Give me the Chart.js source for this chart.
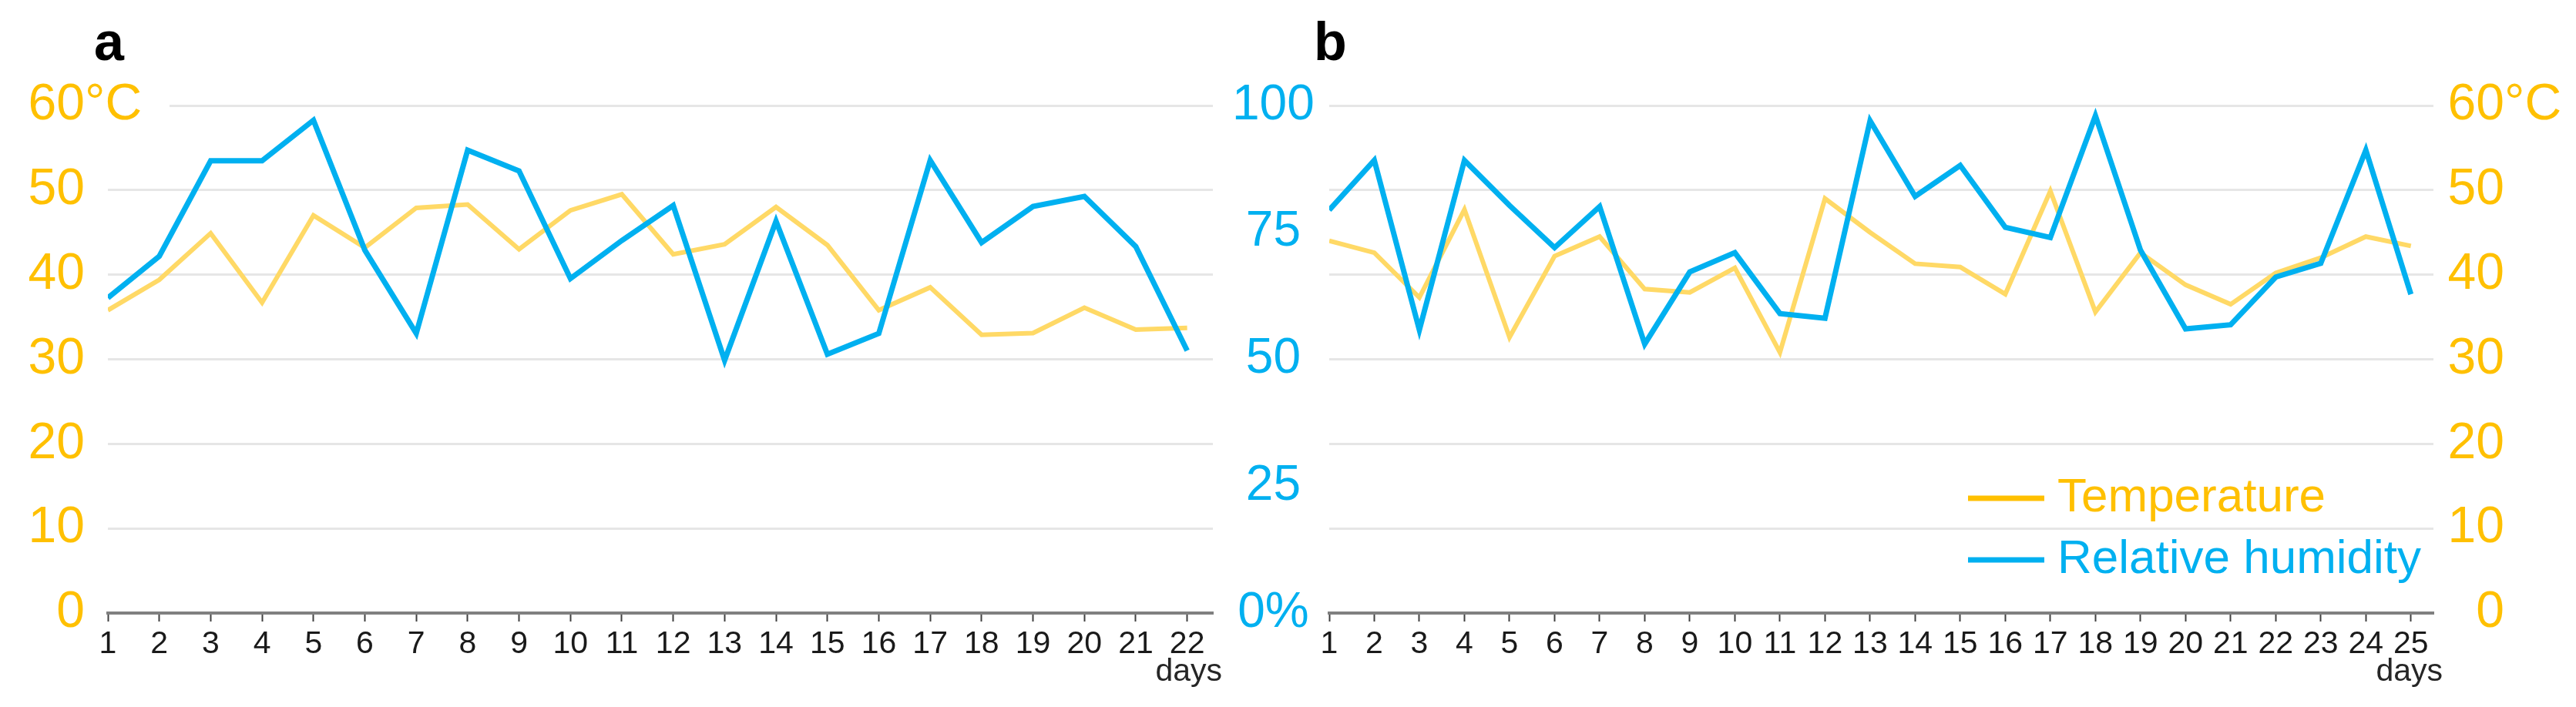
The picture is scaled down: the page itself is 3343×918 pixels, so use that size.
<!DOCTYPE html>
<html>
<head>
<meta charset="utf-8">
<script src="https://cdn.jsdelivr.net/npm/chart.js@4.4.0/dist/chart.umd.min.js"></script>
<style>
  body { margin: 0; background: #fff; width: 3343px; height: 918px; overflow: hidden; position: relative; }
  canvas { position: absolute; top: 0; }
  #chartA { left: 0; }
  #chartB { left: 1700px; }
</style>
</head>
<body>
<canvas id="chartA" width="1720" height="918"></canvas>
<canvas id="chartB" width="1643" height="918"></canvas>
<script>
// panel a
const daysA = [1, 2, 3, 4, 5, 6, 7, 8, 9, 10, 11, 12, 13, 14, 15, 16, 17, 18, 19, 20, 21, 22];
const tempA = [35.8, 39.4, 44.9, 36.7, 47.0, 43.2, 47.9, 48.3, 43.0, 47.6, 49.5, 42.4, 43.6, 48.0, 43.5, 35.8, 38.5, 32.9, 33.1, 36.1, 33.5, 33.7];
const humA  = [62.1, 70.3, 89.1, 89.1, 97.1, 71.5, 55.1, 91.2, 87.1, 65.9, 73.4, 80.3, 49.8, 77.2, 51.0, 55.1, 89.2, 73.0, 80.1, 82.1, 72.2, 51.7];

// panel b
const daysB = [1, 2, 3, 4, 5, 6, 7, 8, 9, 10, 11, 12, 13, 14, 15, 16, 17, 18, 19, 20, 21, 22, 23, 24, 25];
const tempB = [44.0, 42.6, 37.3, 47.7, 32.6, 42.2, 44.5, 38.3, 37.9, 40.8, 30.8, 49.0, 45.0, 41.3, 40.9, 37.7, 49.9, 35.6, 42.6, 38.8, 36.5, 40.2, 42.0, 44.5, 43.4];
const humB  = [79.4, 89.2, 55.8, 89.2, 80.3, 72.0, 80.1, 53.0, 67.2, 71.0, 59.0, 58.1, 97.0, 82.1, 88.2, 76.0, 74.0, 98.0, 71.5, 56.0, 56.8, 66.2, 68.9, 91.2, 62.8];

const tempTicks = [0, 10, 20, 30, 40, 50, 60];
const humTicks = [0, 25, 50, 75, 100];

const FONT = "'Liberation Sans', Arial, sans-serif";
const ORANGE = '#FFC000';
const YELLOW = '#FFD966';
const BLUE = '#00B0F0';

const setTicks = values => scale => { scale.ticks = values.map(v => ({ value: v })); };
const points = (days, vals) => days.map((d, i) => ({ x: d, y: vals[i] }));

function datasets(days, temp, hum) {
  return [
    { label: 'Temperature', data: points(days, temp), yAxisID: 'yT', borderColor: YELLOW, borderWidth: 6, pointRadius: 0, order: 1 },
    { label: 'Relative humidity', data: points(days, hum), yAxisID: 'yH', borderColor: BLUE, borderWidth: 7, pointRadius: 0, order: 0 },
  ];
}

function xAxis(days, max) {
  return {
    type: 'linear', min: 1, max: max,
    afterBuildTicks: setTicks(days),
    afterFit: s => { s.height = 122; },
    grid: { drawOnChartArea: false, drawTicks: true, tickLength: 11, tickColor: '#404040', tickWidth: 2 },
    border: { color: '#808080', width: 4 },
    ticks: { color: '#1a1a1a', font: { family: FONT, size: 41 }, padding: 5, maxRotation: 0, autoSkip: false },
  };
}

function tempAxis(position, width, padding, crossAlign) {
  return {
    type: 'linear', position: position, min: 0, max: 60,
    afterBuildTicks: setTicks(tempTicks),
    afterFit: s => { s.width = width; },
    grid: { color: '#e6e6e6', lineWidth: 3, drawTicks: false },
    border: { display: false },
    ticks: { color: ORANGE, font: { family: FONT, size: 66 }, padding: padding, crossAlign: crossAlign },
  };
}

// letters, "days", the °C unit and the legend of panel b
const overlay = {
  id: 'overlay',
  afterDraw(chart, args, o) {
    const { ctx, chartArea: ca } = chart;
    const yT = chart.scales.yT;
    const y60 = yT.getPixelForValue(60);
    ctx.save();
    ctx.fillStyle = '#000';
    ctx.font = 'bold 70px ' + FONT;
    ctx.textAlign = 'left';
    ctx.textBaseline = 'alphabetic';
    ctx.fillText(o.letter, o.letterX, 78);

    ctx.fillStyle = '#262626';
    ctx.font = '41px ' + FONT;
    ctx.textAlign = 'right';
    ctx.fillText('days', ca.right + 12, 884);

    ctx.font = '66px ' + FONT;
    let cx;
    if (yT.position === 'left') {
      cx = yT.right - yT.options.ticks.padding;
      ctx.fillStyle = '#fff';
      ctx.fillRect(ca.left, y60 - 3, 80, 6);
    } else {
      cx = yT.right;
    }
    ctx.fillStyle = ORANGE;
    ctx.textAlign = 'left';
    ctx.textBaseline = 'middle';
    ctx.fillText('°C', cx, y60);

    if (o.legend) {
      const colors = [ORANGE, BLUE];
      ctx.font = '62px ' + FONT;
      chart.data.datasets.forEach((ds, i) => {
        const y = 647 + i * 80;
        ctx.strokeStyle = colors[i];
        ctx.lineWidth = 7;
        ctx.beginPath();
        ctx.moveTo(854, y);
        ctx.lineTo(953, y);
        ctx.stroke();
        ctx.fillStyle = colors[i];
        ctx.fillText(ds.label, 970, y);
      });
    }
    ctx.restore();
  }
};

new Chart(document.getElementById('chartA'), {
  type: 'line',
  data: { datasets: datasets(daysA, tempA, humA) },
  plugins: [overlay],
  options: {
    responsive: false,
    animation: false,
    layout: { padding: { top: 137, left: 0, right: 0, bottom: 0 } },
    scales: {
      x: xAxis(daysA, 22.5),
      yT: tempAxis('left', 140, 30, 'near'),
      yH: {
        type: 'linear', position: 'right', min: 0, max: 100,
        afterBuildTicks: setTicks(humTicks),
        afterFit: s => { s.width = 146; },
        grid: { display: false },
        border: { display: false },
        ticks: { color: BLUE, font: { family: FONT, size: 64 }, padding: 17, crossAlign: 'center',
                 callback: v => (v === 0 ? '0%' : v) },
      },
    },
    plugins: {
      legend: { display: false },
      tooltip: { enabled: false },
      overlay: { letter: 'a', letterX: 122 },
    },
  },
});

new Chart(document.getElementById('chartB'), {
  type: 'line',
  data: { datasets: datasets(daysB, tempB, humB) },
  plugins: [overlay],
  options: {
    responsive: false,
    animation: false,
    layout: { padding: { top: 137, left: 25, right: 93, bottom: 0 } },
    scales: {
      x: xAxis(daysB, 25.5),
      yT: tempAxis('right', 92, 19, 'far'),
      yH: { type: 'linear', display: false, min: 0, max: 100 },
    },
    plugins: {
      legend: { display: false },
      tooltip: { enabled: false },
      overlay: { letter: 'b', letterX: 5, legend: true },
    },
  },
});
</script>
</body>
</html>
